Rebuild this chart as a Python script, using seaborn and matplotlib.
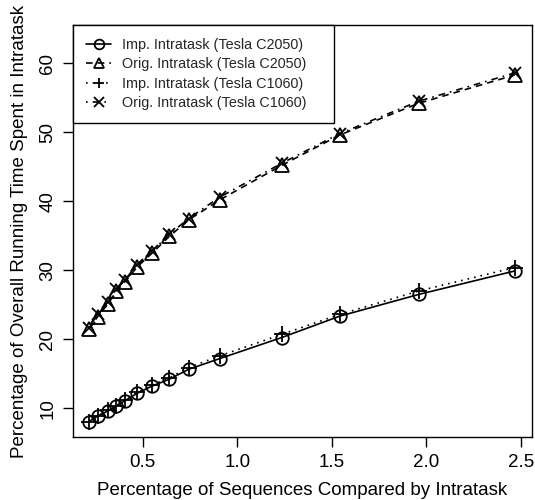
import matplotlib
matplotlib.use("Agg")
import matplotlib.pyplot as plt
import seaborn as sns
import pandas as pd

# ---- data ----
pct_sequences = [0.214, 0.262, 0.315, 0.361, 0.405, 0.471, 0.550, 0.640,
                 0.743, 0.907, 1.235, 1.542, 1.960, 2.468]
imp_c2050 = [8.06, 8.88, 9.61, 10.33, 11.10, 12.17, 13.23, 14.20,
             15.65, 17.20, 20.25, 23.35, 26.50, 29.90]
orig_c2050 = [21.5, 23.3, 25.1, 27.0, 28.3, 30.5, 32.5, 34.9,
              37.3, 40.2, 45.2, 49.6, 54.2, 58.3]
imp_c1060 = [8.06, 8.90, 9.70, 10.40, 11.20, 12.30, 13.40, 14.40,
             15.90, 17.60, 20.70, 23.60, 27.00, 30.40]
orig_c1060 = [21.7, 23.6, 25.4, 27.3, 28.6, 30.8, 32.8, 35.2,
              37.5, 40.6, 45.5, 49.8, 54.5, 58.6]

series_names = ["Imp. Intratask (Tesla C2050)", "Orig. Intratask (Tesla C2050)",
                "Imp. Intratask (Tesla C1060)", "Orig. Intratask (Tesla C1060)"]
series_values = [imp_c2050, orig_c2050, imp_c1060, orig_c1060]

x_label = "Percentage of Sequences Compared by Intratask"
y_label = "Percentage of Overall Running Time Spent in Intratask"
x_ticks = [0.5, 1.0, 1.5, 2.0, 2.5]
y_ticks = [10, 20, 30, 40, 50, 60]

# ---- styles ----
markers = ["o", "^", "+", "x"]
linestyles = ["-", (0, (4, 3)), (0, (1, 3)), (0, (1, 3, 4, 3))]
msizes = [9, 10.5, 11, 9]

sns.set_theme(style="ticks")
plt.rcParams["font.family"] = ["Liberation Sans", "DejaVu Sans"]

fig = plt.figure(figsize=(5.35, 5.0), dpi=100)
ax = fig.add_axes([73 / 535, 1 - 437 / 500, (532 - 73) / 535, (437 - 25) / 500])

for name, vals, m, ls, ms in zip(series_names, series_values, markers, linestyles, msizes):
    df = pd.DataFrame({"x": pct_sequences, "y": vals})
    sns.lineplot(data=df, x="x", y="y", ax=ax, sort=False, color="black",
                 marker=m, markersize=ms, markerfacecolor="none",
                 markeredgecolor="black", markeredgewidth=1.3,
                 linestyle=ls, linewidth=1.2, label=name)

ax.set_xlim(0.131, 2.56)
ax.set_ylim(5.84, 65.55)
ax.set_xticks(x_ticks)
ax.set_xticklabels([f"{t:.1f}" for t in x_ticks])
ax.set_yticks(y_ticks)
ax.set_yticklabels([str(t) for t in y_ticks], rotation=90, va="center")
ax.tick_params(axis="both", direction="out", length=7, width=1, color="black",
               labelsize=13.5, labelcolor="black", pad=5)
ax.set_xlabel(x_label, fontsize=13.5, color="black", labelpad=8)
ax.set_ylabel(y_label, fontsize=13.5, color="black", labelpad=8)
for sp in ax.spines.values():
    sp.set_visible(True)
    sp.set_color("black")
    sp.set_linewidth(1)

leg = ax.legend(loc="upper left", bbox_to_anchor=(0, 1, 261 / 459, 0),
                mode="expand", borderaxespad=0, fancybox=False,
                edgecolor="black", framealpha=1, fontsize=10.4,
                handlelength=1.75, handletextpad=0.75, labelspacing=0.38,
                borderpad=0.9, numpoints=1)
leg.get_frame().set_linewidth(1)
for h in leg.legend_handles:
    h.set_markersize(7)

fig.savefig("out.png", dpi=100)
